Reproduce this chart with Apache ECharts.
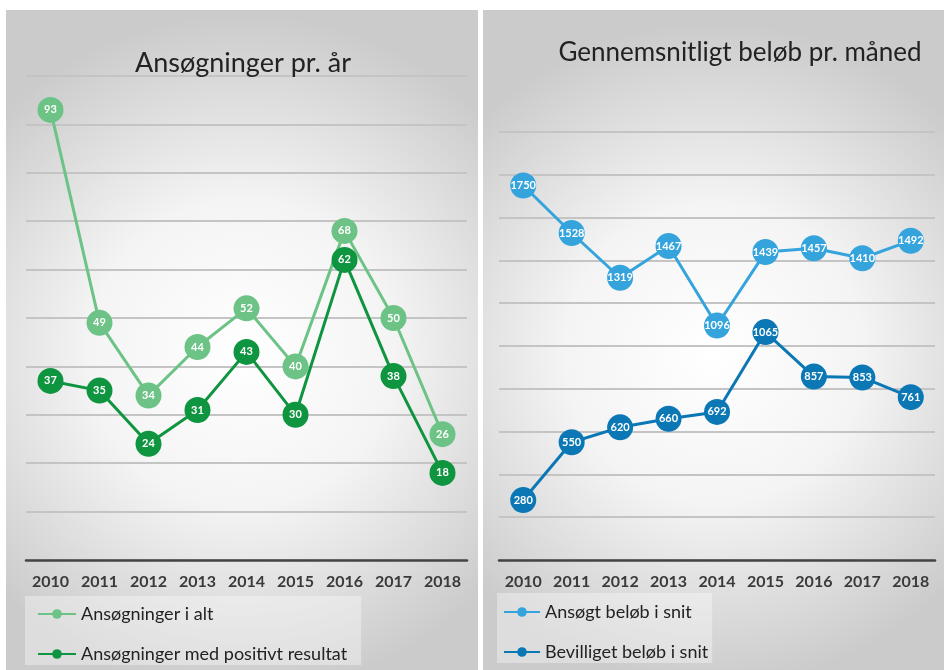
<!DOCTYPE html>
<html>
<head>
<meta charset="utf-8">
<script src="https://cdn.jsdelivr.net/npm/echarts@6/dist/echarts.min.js"></script>
<style>
  html, body { margin: 0; padding: 0; background: #fff; }
  #main { width: 946px; height: 670px; }
</style>
</head>
<body>
<div id="main"></div>
<script>
var years = ['2010', '2011', '2012', '2013', '2014', '2015', '2016', '2017', '2018'];
var ansogningerIAlt = [93, 49, 34, 44, 52, 40, 68, 50, 26];
var ansogningerPositiv = [37, 35, 24, 31, 43, 30, 62, 38, 18];
var ansogtBelob = [1750, 1528, 1319, 1467, 1096, 1439, 1457, 1410, 1492];
var bevilligetBelob = [280, 550, 620, 660, 692, 1065, 857, 853, 761];

var chartDom = document.getElementById('main');
var myChart = echarts.init(chartDom);
var option;

var FONT = 'Lato';

function panelFill() {
  return new echarts.graphic.RadialGradient(0.5, 0.52, 0.72, [
    { offset: 0, color: '#ffffff' },
    { offset: 0.45, color: '#f4f4f4' },
    { offset: 1, color: '#cbcbcb' }
  ]);
}

function lineSeries(name, data, color, xi) {
  return {
    name: name,
    type: 'line',
    xAxisIndex: xi,
    yAxisIndex: xi,
    data: data,
    symbol: 'circle',
    symbolSize: 26,
    lineStyle: { color: color, width: 3 },
    itemStyle: { color: color },
    label: {
      show: true,
      position: 'inside',
      color: '#fff',
      fontFamily: FONT,
      fontWeight: 'bold',
      fontSize: 11
    },
    emphasis: { disabled: true }
  };
}

function xAxisFor(gi) {
  return {
    type: 'category',
    gridIndex: gi,
    data: years,
    axisLine: { lineStyle: { color: '#444', width: 2.5 } },
    axisTick: { show: false },
    axisLabel: {
      color: '#3a3a3a',
      fontFamily: FONT,
      fontWeight: 'bold',
      fontSize: 16,
      margin: 14
    }
  };
}

function yAxisFor(gi, max, interval) {
  return {
    type: 'value',
    gridIndex: gi,
    min: 0,
    max: max,
    interval: interval,
    axisLabel: { show: false },
    axisLine: { show: false },
    axisTick: { show: false },
    splitLine: { lineStyle: { color: '#c4c4c4', width: 2 } }
  };
}

var legendText = { color: '#222', fontFamily: FONT, fontSize: 18 };

option = {
  backgroundColor: '#fff',
  graphic: [
    { type: 'rect', shape: { x: 6, y: 10, width: 472, height: 660 }, style: { fill: panelFill() }, z: -10 },
    { type: 'rect', shape: { x: 483, y: 10, width: 461, height: 660 }, style: { fill: panelFill() }, z: -10 }
  ],
  title: [
    {
      text: 'Ansøgninger pr. år',
      left: 238,
      top: 45,
      textAlign: 'center',
      textStyle: { fontFamily: FONT, fontSize: 27, fontWeight: 'normal', color: '#222' }
    },
    {
      text: 'Gennemsnitligt beløb pr. måned',
      left: 735,
      top: 35,
      textAlign: 'center',
      textStyle: { fontFamily: FONT, fontSize: 26, fontWeight: 'normal', color: '#222' }
    }
  ],
  legend: [
    {
      data: ['Ansøgninger i alt', 'Ansøgninger med positivt resultat'],
      orient: 'vertical',
      left: 25,
      top: 596,
      padding: [9, 14, 2, 12],
      itemGap: 22,
      itemWidth: 38,
      itemHeight: 12,
      backgroundColor: 'rgba(255,255,255,0.35)',
      textStyle: legendText
    },
    {
      data: ['Ansøgt beløb i snit', 'Bevilliget beløb i snit'],
      orient: 'vertical',
      left: 497,
      top: 593,
      padding: [10, 4, 2, 6],
      itemGap: 22,
      itemWidth: 36,
      itemHeight: 12,
      backgroundColor: 'rgba(255,255,255,0.35)',
      textStyle: legendText
    }
  ],
  grid: [
    { left: 26, top: 76, width: 441, height: 484 },
    { left: 499, top: 132, width: 436, height: 428 }
  ],
  xAxis: [xAxisFor(0), xAxisFor(1)],
  yAxis: [yAxisFor(0, 100, 10), yAxisFor(1, 2000, 200)],
  series: [
    lineSeries('Ansøgninger i alt', ansogningerIAlt, '#6cc385', 0),
    lineSeries('Ansøgninger med positivt resultat', ansogningerPositiv, '#0f9540', 0),
    lineSeries('Ansøgt beløb i snit', ansogtBelob, '#35a4dc', 1),
    lineSeries('Bevilliget beløb i snit', bevilligetBelob, '#0b78b5', 1)
  ]
};

option && myChart.setOption(option);
</script>
</body>
</html>
